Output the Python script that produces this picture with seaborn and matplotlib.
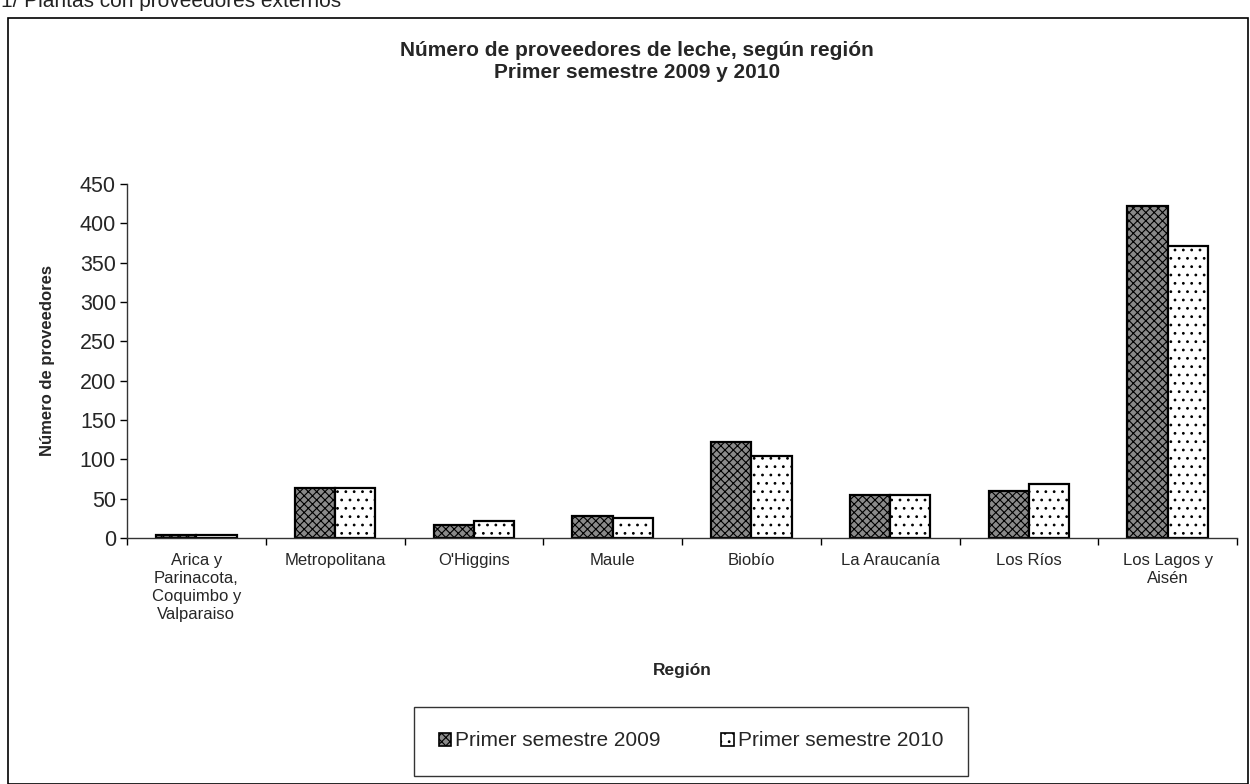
import matplotlib
matplotlib.use("Agg")
import matplotlib.pyplot as plt
import matplotlib.patches as mpatches
import seaborn as sns
import pandas as pd
import numpy as np

regions = ["Arica y\nParinacota,\nCoquimbo y\nValparaiso", "Metropolitana", "O'Higgins",
           "Maule", "Biobío", "La Araucanía", "Los Ríos", "Los Lagos y\nAisén"]
series_names = ["Primer semestre 2009", "Primer semestre 2010"]
vals_2009 = [4, 63, 17, 28, 122, 55, 60, 422]
vals_2010 = [4, 63, 21, 25, 104, 55, 69, 371]
yticks = [0, 50, 100, 150, 200, 250, 300, 350, 400, 450]

df = pd.DataFrame({
    "Región": regions * 2,
    "Serie": [series_names[0]] * len(regions) + [series_names[1]] * len(regions),
    "Valor": vals_2009 + vals_2010,
})

sns.set_theme(style="white")
plt.rcParams["font.family"] = ["Liberation Sans", "DejaVu Sans"]
plt.rcParams["hatch.linewidth"] = 0.8

fig = plt.figure(figsize=(12.5, 7.84), dpi=100)
ax = fig.add_axes([127/1250, 1-538/784, (1237-127)/1250, (538-184)/784])

sns.barplot(data=df, x="Región", y="Valor", hue="Serie", order=regions,
            hue_order=series_names, width=0.58, ax=ax, legend=False,
            palette=["#7a7a7a", "white"], saturation=1)

styles = [dict(fc="#8a8a8a", hatch="xxxx"), dict(fc="white", hatch="..")]
for cont, st in zip(ax.containers, styles):
    for p in cont.patches:
        p.set_facecolor(st["fc"])
        p.set_hatch(st["hatch"])
        p.set_edgecolor("black")
        p.set_linewidth(1.6)

ax.set_ylim(0, 450)
ax.set_yticks(yticks)
ax.set_yticklabels([str(t) for t in yticks], fontsize=15.5)
ax.set_xlim(-0.5, len(regions) - 0.5)
ax.set_xticks(range(len(regions)))
ax.set_xticklabels(regions, fontsize=12, linespacing=1.25)
ax.set_xticks(np.arange(-0.5, len(regions), 1.0), minor=True)
ax.tick_params(axis="x", which="major", length=0, pad=11)
ax.tick_params(axis="x", which="minor", length=5, direction="out", width=1, color="black", bottom=True)
ax.tick_params(axis="y", length=5, direction="out", width=1, color="black", left=True, pad=3)
for s in ["top", "right"]:
    ax.spines[s].set_visible(False)
for s in ["left", "bottom"]:
    ax.spines[s].set_color("#333333")
    ax.spines[s].set_linewidth(1)
ax.set_xlabel("Región", fontsize=12.5, fontweight="bold")
ax.xaxis.set_label_coords(0.5, (538-670)/354)
ax.set_ylabel("Número de proveedores", fontsize=12, fontweight="bold")
ax.yaxis.set_label_coords((48-127)/1110, 0.5)
ax.xaxis.label.set_va("center")
ax.yaxis.label.set_va("center")
ax.grid(False)

fig.text(637/1250, 1-50/784, "Número de proveedores de leche, según región",
         ha="center", va="center", fontsize=15, fontweight="bold")
fig.text(637/1250, 1-72/784, "Primer semestre 2009 y 2010",
         ha="center", va="center", fontsize=15, fontweight="bold")
fig.text(0.001, 1-7/784, "1/ Plantas con proveedores externos", ha="left", va="baseline",
         fontsize=15, color="#222222")

frame = mpatches.Rectangle((8/1250, 0), (1248-8)/1250, 1-18/784, transform=fig.transFigure,
                           fill=False, edgecolor="black", linewidth=1.2)
fig.add_artist(frame)

handles = [mpatches.Patch(facecolor=styles[i]["fc"], hatch=styles[i]["hatch"], edgecolor="black",
                          linewidth=1.2, label=series_names[i]) for i in range(2)]
leg = fig.legend(handles=handles, loc="center", ncol=2,
                 bbox_to_anchor=(691/1250, 1-741/784), fontsize=15,
                 frameon=True, fancybox=False, edgecolor="black", borderpad=1.2,
                 columnspacing=2.9, handlelength=0.6, handleheight=0.6, handletextpad=0.2,
                 borderaxespad=0)
leg.get_frame().set_linewidth(1)
leg.get_frame().set_boxstyle("square", pad=0)

fig.savefig("out.png", dpi=100)
